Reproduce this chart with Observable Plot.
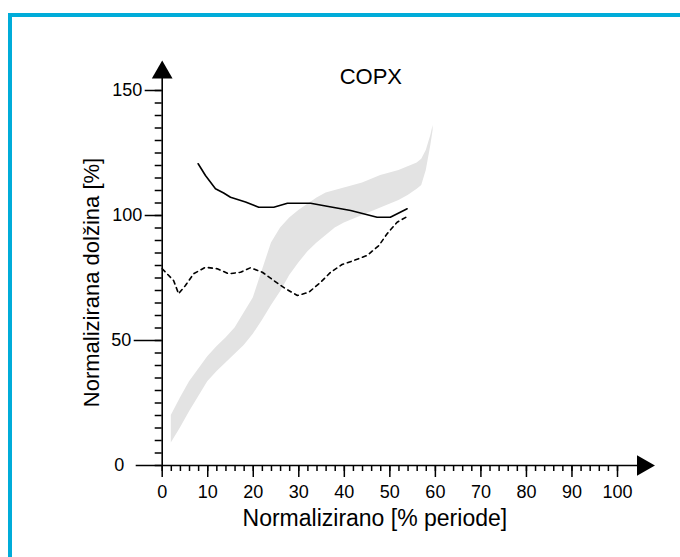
<!DOCTYPE html>
<html><head><meta charset="utf-8">
<script src="https://cdn.jsdelivr.net/npm/d3@7"></script>
<script src="https://cdn.jsdelivr.net/npm/@observablehq/plot@0.6"></script>
<style>
html,body{margin:0;padding:0;background:#fff;}
#frame{position:relative;width:680px;height:557px;overflow:hidden;background:#fff;}
#frame .border{position:absolute;left:8px;top:13px;right:-10px;bottom:-10px;border-left:4px solid #00acd9;border-top:4px solid #00acd9;pointer-events:none;z-index:2}
#frame svg{position:absolute;left:0;top:0}
</style></head><body><div id="frame"><div class="border"></div></div>
<script>
const chartTitle = "COPX";
const xTitle = "Normalizirano [% periode]";
const yTitle = "Normalizirana dolžina [%]";

// normative band (grey)
const bandX    = [2, 4, 6, 8, 10, 12, 14, 16, 18, 20, 22, 24, 26, 28, 30, 32, 34, 36, 38, 40, 42, 44, 46, 48, 50, 52, 54, 56, 57, 58, 59, 59.5];
const bandLow  = [9, 15, 21.5, 27.5, 33.5, 37.5, 41, 44.5, 48, 52.5, 58, 64, 69.5, 76, 81, 85.5, 89, 92, 95, 97, 98.5, 100, 101.5, 103, 104.5, 106, 108, 110.5, 112, 118, 128, 134];
const bandHigh = [20, 27, 33.5, 38.5, 43.5, 47.5, 51, 55, 61, 67, 78, 89, 95, 99, 102, 104.5, 107, 109, 110, 111, 112, 113, 114.5, 116, 117, 118, 119.5, 121, 122.5, 126, 132, 136];

// solid line
const solidX = [7.9, 9.5, 11.7, 13.5, 15.0, 18.3, 21.2, 24.5, 27.5, 32.6, 36.2, 41.4, 47.2, 50.1, 52.5, 53.8];
const solidY = [120.7, 116, 110.7, 109, 107.3, 105.4, 103.3, 103.3, 104.9, 104.9, 103.7, 102, 99.3, 99.3, 101.5, 102.7];

// dashed line
const dashX = [0, 2.5, 3.6, 5.1, 6.9, 9.5, 12.1, 14.6, 17.2, 19.4, 22.0, 24.5, 27.1, 29.7, 32.2, 34.8, 37.0, 39.5, 42.1, 45.0, 47.6, 49.4, 51.6, 54.2];
const dashY = [78.7, 74, 68.7, 72, 76.7, 79.3, 78.7, 76.7, 77.3, 79.1, 77.3, 74, 70.7, 68, 69.3, 73.3, 77.3, 80.4, 82, 84, 88, 92.7, 97.3, 100];

const xTicks = [0, 10, 20, 30, 40, 50, 60, 70, 80, 90, 100];
const yTicksUpper = [100, 150];
const yTick50 = [50];
const yTick0 = [0];
const xMinor = d3.range(0, 101, 2);
const yMinor = d3.range(0, 151, 5);

const band = bandX.map((x, i) => ({x, lo: bandLow[i], hi: bandHigh[i]}));
const solid = solidX.map((x, i) => ({x, y: solidY[i]}));
const dashed = dashX.map((x, i) => ({x, y: dashY[i]}));

const yMajor = {fontSize: 18, label: null, strokeWidth: 1.5};

const chart = Plot.plot({
  width: 680, height: 557,
  marginLeft: 161.7, marginRight: 63, marginTop: 90, marginBottom: 92,
  x: {domain: [0, 100]},
  y: {domain: [0, 150]},
  style: {fontFamily: "'Liberation Sans', Arial, sans-serif", background: "transparent", color: "#000", overflow: "visible"},
  marks: [
    Plot.areaY(band, {x: "x", y1: "lo", y2: "hi", fill: "#e3e3e3"}),
    Plot.lineY(solid, {x: "x", y: "y", stroke: "#000", strokeWidth: 1.6}),
    Plot.lineY(dashed, {x: "x", y: "y", stroke: "#000", strokeWidth: 1.6, strokeDasharray: "4,4"}),
    Plot.axisY({ticks: yMinor, tickSize: 7, tickFormat: () => "", label: null, strokeWidth: 1.5}),
    Plot.axisY({ticks: yTicksUpper, tickSize: 17, tickPadding: 3, ...yMajor}),
    Plot.axisY({ticks: yTick50, tickSize: 28, tickPadding: 3, ...yMajor}),
    Plot.axisY({ticks: yTick0, tickSize: 26, tickPadding: 12, ...yMajor}),
    Plot.axisX({ticks: xMinor, tickSize: 6, tickFormat: () => "", label: null, strokeWidth: 1.5}),
    Plot.axisX({ticks: xTicks, tickSize: 12, tickPadding: 8, fontSize: 18, label: null, strokeWidth: 1.5}),
    Plot.ruleX([0], {y1: 0, y2: 155, stroke: "#000", strokeWidth: 1.6}),
    Plot.ruleY([0], {x1: 0, x2: 105, stroke: "#000", strokeWidth: 1.6}),
    Plot.dot([{x: 0, y: 157.2}], {x: "x", y: "y", symbol: "triangle", r: 7.7, fill: "#000", stroke: null}),
    Plot.dot([{x: 105.6, y: 0}], {x: "x", y: "y", symbol: "triangle", r: 7.7, fill: "#000", stroke: null, rotate: 90}),
    Plot.text([chartTitle], {frameAnchor: "top", dx: -19, dy: -22, fontSize: 22, style: "letter-spacing:1.5px"}),
    Plot.text([xTitle], {frameAnchor: "bottom", dx: -15, dy: 60, fontSize: 23}),
    Plot.text([yTitle], {frameAnchor: "left", textAnchor: "middle", rotate: -90, dx: -70, dy: 4.5, fontSize: 22})
  ]
});
document.getElementById("frame").appendChild(chart);
</script>
</body></html>
